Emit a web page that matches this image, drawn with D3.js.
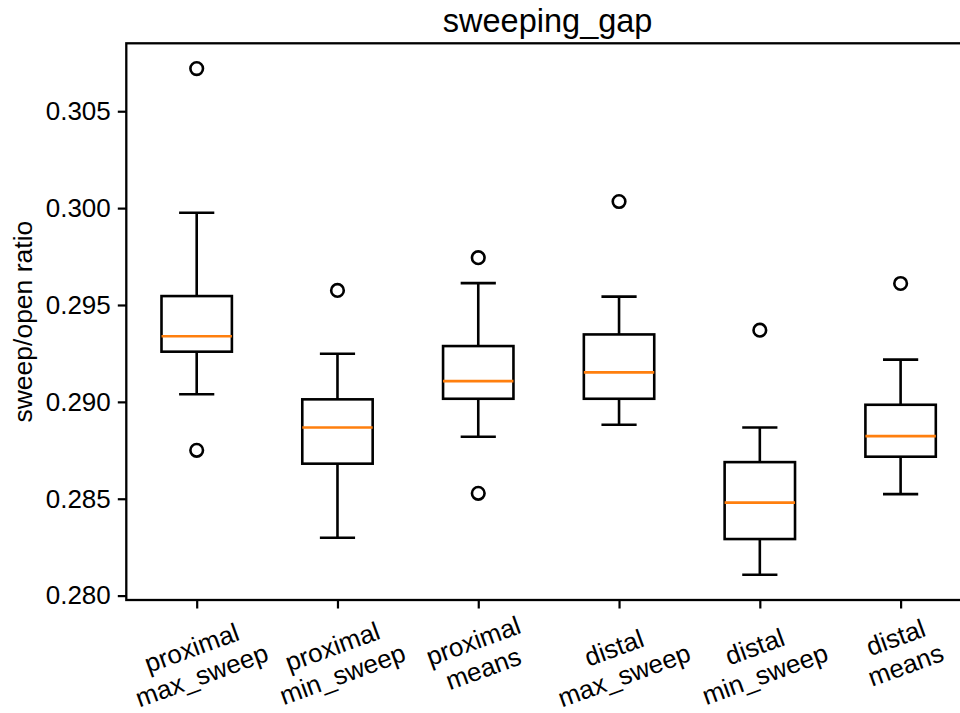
<!DOCTYPE html>
<html>
<head>
<meta charset="utf-8">
<script src="https://cdn.jsdelivr.net/npm/d3@7"></script>
<style>
  html, body { margin: 0; padding: 0; background: #fff; }
  svg { display: block; font-family: "Liberation Sans", Arial, sans-serif; }
</style>
</head>
<body>
<svg id="chart" width="960" height="713"></svg>
<script>
// Group labels (two lines each)
const categories = [
  ["proximal", "max_sweep"],
  ["proximal", "min_sweep"],
  ["proximal", "means"],
  ["distal", "max_sweep"],
  ["distal", "min_sweep"],
  ["distal", "means"]
];

// Box statistics per group
const whiskerLow  = [0.29039, 0.28299, 0.28820, 0.28882, 0.28108, 0.28524];
const q1          = [0.29259, 0.28681, 0.29016, 0.29016, 0.28292, 0.28717];
const medians     = [0.29339, 0.28868, 0.29107, 0.29152, 0.28480, 0.28823];
const q3          = [0.29546, 0.29013, 0.29288, 0.29348, 0.28689, 0.28985];
const whiskerHigh = [0.29976, 0.29248, 0.29613, 0.29543, 0.28868, 0.29218];

// Fliers beyond the whiskers
const outliers = [
  [0.30720, 0.28750],
  [0.29575],
  [0.29744, 0.28528],
  [0.30034],
  [0.29370],
  [0.29611]
];

const yTicks = [0.280, 0.285, 0.290, 0.295, 0.300, 0.305];
const titleText = "sweeping_gap";
const yLabel = "sweep/open ratio";

const svg = d3.select("#chart");
const mLeft = 126.3, mRight = 971, mTop = 43.3, mBottom = 600;

// Data limits with 5% padding
const allVals = whiskerLow.concat(whiskerHigh, outliers.flat());
const lo = d3.min(allVals), hi = d3.max(allVals);
const pad = (hi - lo) * 0.05;

const x = d3.scaleLinear().domain([0.5, categories.length + 0.5]).range([mLeft, mRight]);
const y = d3.scaleLinear().domain([lo - pad, hi + pad]).range([mBottom, mTop]);

const LW = 2.6;
const boxW = 0.5, capW = 0.25;

const plot = svg.append("g");

categories.forEach((c, i) => {
  const p = i + 1;
  const g = plot.append("g").attr("fill", "none").attr("stroke", "#000").attr("stroke-width", LW);
  // whiskers
  g.append("line").attr("x1", x(p)).attr("x2", x(p)).attr("y1", y(q1[i])).attr("y2", y(whiskerLow[i]));
  g.append("line").attr("x1", x(p)).attr("x2", x(p)).attr("y1", y(q3[i])).attr("y2", y(whiskerHigh[i]));
  // caps
  g.append("line").attr("x1", x(p - capW / 2)).attr("x2", x(p + capW / 2)).attr("y1", y(whiskerLow[i])).attr("y2", y(whiskerLow[i]));
  g.append("line").attr("x1", x(p - capW / 2)).attr("x2", x(p + capW / 2)).attr("y1", y(whiskerHigh[i])).attr("y2", y(whiskerHigh[i]));
  // box
  g.append("rect")
    .attr("x", x(p - boxW / 2)).attr("width", x(p + boxW / 2) - x(p - boxW / 2))
    .attr("y", y(q3[i])).attr("height", y(q1[i]) - y(q3[i]));
  // median
  g.append("line").attr("stroke", "#ff7f0e")
    .attr("x1", x(p - boxW / 2)).attr("x2", x(p + boxW / 2))
    .attr("y1", y(medians[i])).attr("y2", y(medians[i]));
  // fliers
  g.selectAll("circle").data(outliers[i]).join("circle")
    .attr("cx", x(p)).attr("cy", d => y(d)).attr("r", 6.3);
});

// Spines
svg.append("rect")
  .attr("x", mLeft).attr("y", mTop).attr("width", mRight - mLeft).attr("height", mBottom - mTop)
  .attr("fill", "none").attr("stroke", "#000").attr("stroke-width", 2.3);

// Y axis
const yAxis = svg.append("g")
  .attr("transform", `translate(${mLeft},0)`)
  .call(d3.axisLeft(y).tickValues(yTicks).tickFormat(d3.format(".3f")).tickSize(8.5).tickPadding(7));
yAxis.select(".domain").remove();
yAxis.selectAll(".tick line").attr("stroke-width", 2.2);
yAxis.selectAll(".tick text").attr("font-size", 26).attr("fill", "#000")
  .attr("font-family", "Liberation Sans, Arial, sans-serif");

// X axis ticks
const xAxis = svg.append("g")
  .attr("transform", `translate(0,${mBottom})`)
  .call(d3.axisBottom(x).tickValues(d3.range(1, categories.length + 1)).tickSize(8.5).tickFormat(""));
xAxis.select(".domain").remove();
xAxis.selectAll(".tick line").attr("stroke-width", 2.2);

// Rotated two-line category labels, centred under each tick
const fs = 26, angle = -20, lineH = fs * 1.13;
categories.forEach((c, i) => {
  const g = svg.append("g");
  const t = g.append("text").attr("font-size", fs).attr("text-anchor", "middle").attr("fill", "#000");
  c.forEach((s, k) => t.append("tspan").attr("x", 0).attr("y", k * lineH).text(s));
  const bb = t.node().getBBox();
  const a = angle * Math.PI / 180;
  const corners = [[bb.x, bb.y], [bb.x + bb.width, bb.y], [bb.x, bb.y + bb.height], [bb.x + bb.width, bb.y + bb.height]]
    .map(([px, py]) => [px * Math.cos(a) - py * Math.sin(a), px * Math.sin(a) + py * Math.cos(a)]);
  const minX = d3.min(corners, d => d[0]), maxX = d3.max(corners, d => d[0]);
  const minY = d3.min(corners, d => d[1]);
  const cx = x(i + 1) - (minX + maxX) / 2;
  const cy = mBottom + 10 - minY;
  g.attr("transform", `translate(${cx},${cy}) rotate(${angle})`);
});

// Title
svg.append("text")
  .attr("x", (mLeft + mRight) / 2 - 1).attr("y", 32)
  .attr("text-anchor", "middle").attr("font-size", 32.5).attr("fill", "#000")
  .text(titleText);

// Y label
svg.append("text")
  .attr("transform", `translate(32,${(mTop + mBottom) / 2}) rotate(-90)`)
  .attr("text-anchor", "middle").attr("font-size", 26.5).attr("fill", "#000")
  .text(yLabel);
</script>
</body>
</html>
